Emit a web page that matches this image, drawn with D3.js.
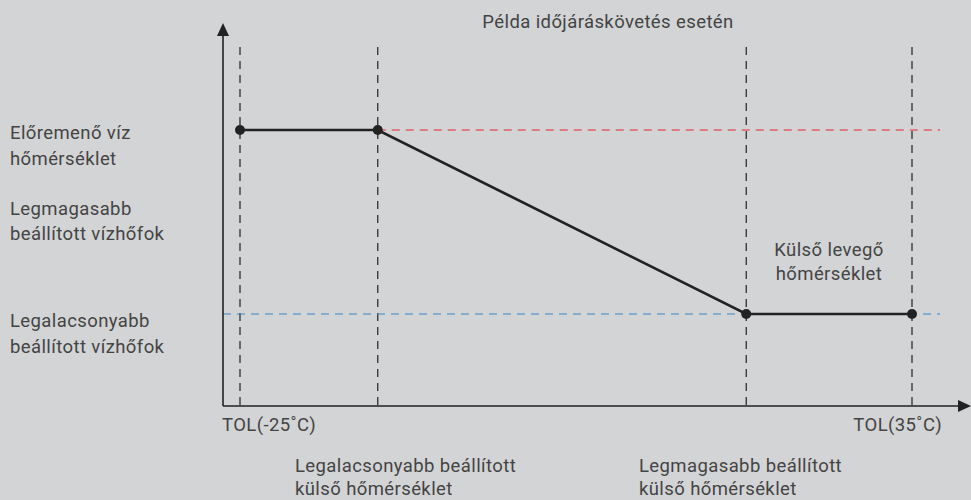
<!DOCTYPE html>
<html><head><meta charset="utf-8">
<script src="https://cdn.jsdelivr.net/npm/d3@7"></script>
<style>
html,body{margin:0;padding:0;background:#d3d4d6;}
text{font-family:"Roboto","Noto Sans",sans-serif;fill:#444;font-size:18.5px;letter-spacing:0.4px;}
</style></head>
<body><svg id="c" width="971" height="500"></svg>
<script>
// Data
const curveTemps = [-25, -12.7, 20.2, 35];      // outdoor temperature (°C) at curve points
const curveWater = [55, 55, 35, 35];            // flow water temperature
const maxWater = 55, minWater = 35;
const tickLabels = ["TOL(-25˚C)", "TOL(35˚C)"];
const title = "Példa időjáráskövetés esetén";
const leftLabels = [["Előremenő víz","hőmérséklet"],["Legmagasabb","beállított vízhőfok"],["Legalacsonyabb","beállított vízhőfok"]];
const bottomLabels = [["Legalacsonyabb beállított","külső hőmérséklet"],["Legmagasabb beállított","külső hőmérséklet"]];
const outdoorLabel = ["Külső levegő","hőmérséklet"];

const svg = d3.select("#c");
const x = d3.scaleLinear().domain([-25, 35]).range([240, 912]);
const y = d3.scaleLinear().domain([25, 65]).range([406, 38]);
const x0 = 223, yAxis = 406;

// dashed verticals
svg.selectAll("line.v").data(curveTemps).enter().append("line")
  .attr("x1", d=>x(d)).attr("x2", d=>x(d)).attr("y1", 47).attr("y2", yAxis)
  .attr("stroke", "#222").attr("stroke-width", 1.2).attr("stroke-dasharray", "8,6");

// horizontal reference lines
svg.append("line").attr("x1", x(curveTemps[1])).attr("x2", 940)
  .attr("y1", y(maxWater)).attr("y2", y(maxWater))
  .attr("stroke", "#e8262a").attr("stroke-width", 1.2).attr("stroke-dasharray", "8,6");
svg.append("line").attr("x1", x0).attr("x2", 940)
  .attr("y1", y(minWater)).attr("y2", y(minWater))
  .attr("stroke", "#3b86c6").attr("stroke-width", 1.2).attr("stroke-dasharray", "8,6");

// axes
svg.append("line").attr("x1", x0).attr("x2", x0).attr("y1", 34).attr("y2", yAxis)
  .attr("stroke", "#222").attr("stroke-width", 1.6);
svg.append("line").attr("x1", x0).attr("x2", 960).attr("y1", yAxis).attr("y2", yAxis)
  .attr("stroke", "#222").attr("stroke-width", 1.6);
svg.append("path").attr("d", `M${x0},23 L${x0-6},36 L${x0+6},36 Z`).attr("fill", "#222");
svg.append("path").attr("d", `M971,${yAxis} L958,${yAxis-6} L958,${yAxis+6} Z`).attr("fill", "#222");

// curve
const pts = curveTemps.map((t,i)=>[t, curveWater[i]]);
svg.append("path").datum(pts)
  .attr("d", d3.line().x(d=>x(d[0])).y(d=>y(d[1])))
  .attr("fill","none").attr("stroke","#222").attr("stroke-width",2.6);
svg.selectAll("circle").data(pts).enter().append("circle")
  .attr("cx", d=>x(d[0])).attr("cy", d=>y(d[1])).attr("r", 5).attr("fill", "#222");

// texts
svg.append("text").attr("x", 608).attr("y", 28).attr("text-anchor","middle").text(title);
const ly = [[139,165],[215,240],[327,353]];
leftLabels.forEach((l,i)=>l.forEach((s,j)=>svg.append("text").attr("x",10).attr("y",ly[i][j]).text(s)));
svg.append("text").attr("x", 222).attr("y", 431).text(tickLabels[0]);
svg.append("text").attr("x", 942).attr("y", 431).attr("text-anchor","end").text(tickLabels[1]);
outdoorLabel.forEach((s,j)=>svg.append("text").attr("x",829).attr("y",256+j*24).attr("text-anchor","middle").text(s));
const bx = [295, 639];
bottomLabels.forEach((l,i)=>l.forEach((s,j)=>svg.append("text").attr("x",bx[i]).attr("y",472+j*23).text(s)));
</script></body></html>
